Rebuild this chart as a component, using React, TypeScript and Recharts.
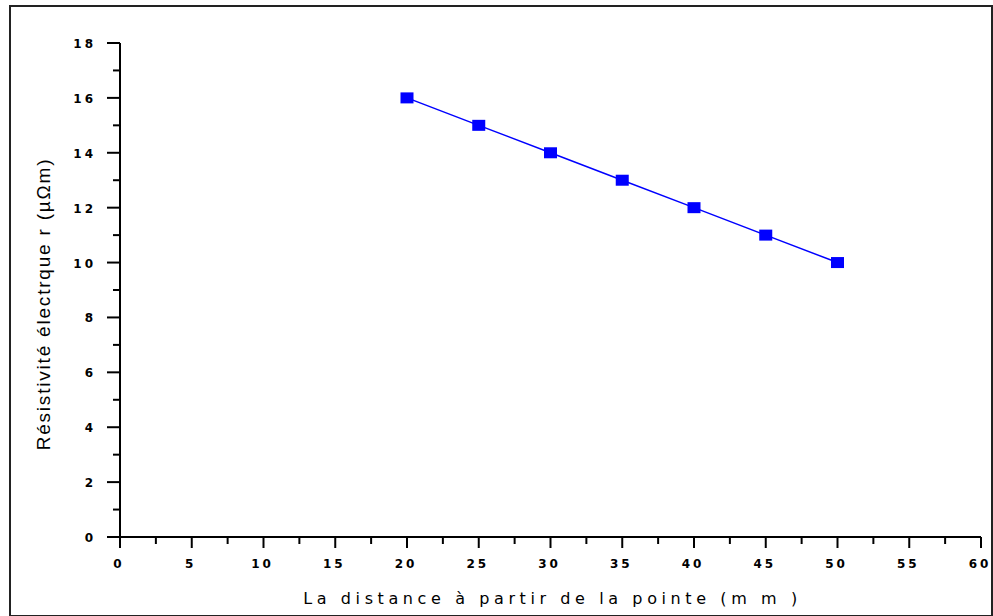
import { Line, LineChart, XAxis, YAxis } from "recharts";

// distance from the tip (mm) and measured resistivity (µΩm)
const distances = [20, 25, 30, 35, 40, 45, 50];
const resistivity = [16, 15, 14, 13, 12, 11, 10];

const xMajor = [0, 5, 10, 15, 20, 25, 30, 35, 40, 45, 50, 55, 60];
const xMinor = [2.5, 7.5, 12.5, 17.5, 22.5, 27.5, 32.5, 37.5, 42.5, 47.5, 52.5, 57.5];
const yMajor = [0, 2, 4, 6, 8, 10, 12, 14, 16, 18];
const yMinor = [1, 3, 5, 7, 9, 11, 13, 15, 17];

const xLabel = "La distance à partir de la pointe (m m )";
const yLabel = "Résistivité électrque r (µΩm)";

const chartData = distances.map((d, i) => ({ d, r: resistivity[i] }));

const tickFont = {
  fontFamily: "DejaVu Sans",
  fontWeight: 700,
  fontSize: 12,
  letterSpacing: 3,
  fill: "#000",
};

function XTick(props: any) {
  const { x, y, payload } = props;
  const major = xMajor.includes(payload.value);
  return (
    <g>
      <line x1={x} y1={y} x2={x} y2={y + (major ? 11 : 7)} stroke="#000" strokeWidth={2} />
      {major && (
        <text x={x - 1} y={y + 31} textAnchor="middle" style={tickFont}>
          {payload.value}
        </text>
      )}
    </g>
  );
}

function YTick(props: any) {
  const { x, y, payload } = props;
  const major = yMajor.includes(payload.value);
  return (
    <g>
      <line x1={x} y1={y} x2={x - (major ? 13 : 7)} y2={y} stroke="#000" strokeWidth={2} />
      {major && (
        <text x={x - 24} y={y + 5} textAnchor="end" style={tickFont}>
          {payload.value}
        </text>
      )}
    </g>
  );
}

function SquareDot(props: any) {
  const { cx, cy } = props;
  return <rect x={cx - 6.5} y={cy - 5.5} width={13} height={11} fill="#0000ff" />;
}

function XTitle(props: any) {
  const { viewBox } = props;
  const cx = viewBox.x + viewBox.width / 2;
  return (
    <text
      x={cx + 2}
      y={604}
      textAnchor="middle"
      style={{ fontFamily: "DejaVu Sans", fontSize: 16, letterSpacing: 4.6, fill: "#000" }}
    >
      {xLabel}
    </text>
  );
}

function YTitle() {
  return (
    <text
      x={43}
      y={304}
      transform="rotate(-90 43 304)"
      textAnchor="middle"
      dominantBaseline="central"
      style={{ fontFamily: "Liberation Sans", fontSize: 19, letterSpacing: 1.8, fill: "#000" }}
    >
      {yLabel}
    </text>
  );
}

export default function App() {
  return (
    <div style={{ position: "absolute", left: 0, top: 0, width: 993, height: 616, background: "#fff" }}>
      <div
        style={{
          position: "absolute",
          left: 9,
          top: 5,
          width: 980,
          height: 608,
          border: "2px solid #222",
        }}
      />
      <LineChart
        width={993}
        height={616}
        data={chartData}
        margin={{ top: 43, right: 12, left: 0, bottom: 0 }}
      >
        <XAxis
          dataKey="d"
          type="number"
          domain={[0, 60]}
          ticks={[...xMajor, ...xMinor].sort((a, b) => a - b)}
          interval={0}
          height={79}
          tickSize={0}
          tickMargin={0}
          tickLine={false}
          tick={<XTick />}
          axisLine={{ stroke: "#000", strokeWidth: 2 }}
          label={<XTitle />}
        />
        <YAxis
          type="number"
          domain={[0, 18]}
          ticks={[...yMajor, ...yMinor].sort((a, b) => a - b)}
          interval={0}
          width={120}
          tickSize={0}
          tickMargin={0}
          tickLine={false}
          tick={<YTick />}
          axisLine={{ stroke: "#000", strokeWidth: 2 }}
          label={<YTitle />}
        />
        <Line
          dataKey="r"
          stroke="#0000ff"
          strokeWidth={1.5}
          dot={<SquareDot />}
          activeDot={false}
          isAnimationActive={false}
        />
      </LineChart>
    </div>
  );
}
